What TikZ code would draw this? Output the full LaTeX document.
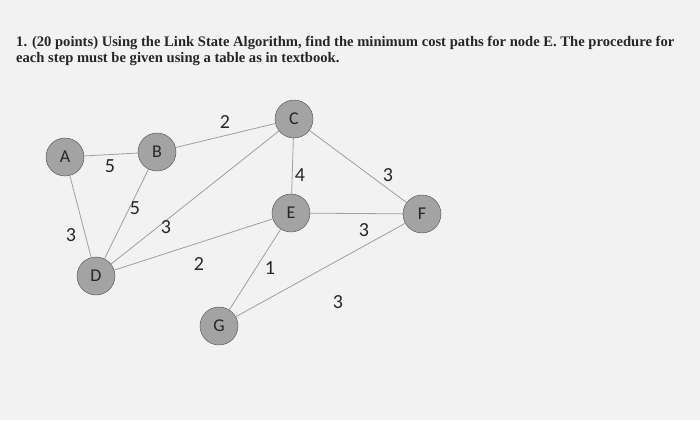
\documentclass[tikz,border=0pt]{standalone}
\usepackage{fontspec}
\setmainfont{Liberation Serif}
\newfontfamily\labelfont{Carlito}
\usetikzlibrary{positioning, calc}

\begin{document}
\begin{tikzpicture}[x=1pt, y=-1pt, router/.style={circle, draw=gray!60!black, fill=gray!72, minimum size=38pt, inner sep=0pt, font=\labelfont\fontsize{18}{18}\selectfont, text=black!85}, link/.style={gray!75, line width=0.8pt}, weight/.style={font=\labelfont\fontsize{20}{20}\selectfont, text=black!85}, task/.style={anchor=base west, inner sep=0pt, font=\bfseries\fontsize{14.6}{16}\selectfont, text=black!85}]
  \fill[gray!10] (0,0) rectangle (700,420);
  \useasboundingbox (0,0) rectangle (700,420);

  % question text
  \node (q1) at (16,46) [task] {1. (20 points) Using the Link State Algorithm, find the minimum cost paths for node E. The procedure for};
  \node (q2) at (16,62) [task] {each step must be given using a table as in textbook.};

  % routers
  \node (A) at (65,157) [router] {A};
  \node (B) at (157,152) [router] {B};
  \node (C) at (294,119) [router] {C};
  \node (D) at (96,276) [router] {D};
  \node (E) at (291,213) [router] {E};
  \node (F) at (422,214) [router] {F};
  \node (G) at (219,326) [router] {G};

  % links
  \draw[link] (A) -- (B);
  \draw[link] (A) -- (D);
  \draw[link] (B) -- (C);
  \draw[link] (B) -- (D);
  \draw[link] (C) -- (D);
  \draw[link] (C) -- (E);
  \draw[link] (C) -- (F);
  \draw[link] (D) -- (E);
  \draw[link] (E) -- (F);
  \draw[link] (E) -- (G);
  \draw[link] (G) -- (F);

  % costs
  \node (wab) at (110,166) [weight] {5};
  \node (wad) at (71,235) [weight] {3};
  \node (wbc) at (225,122) [weight] {2};
  \node (wbd) at (135,208) [weight] {5};
  \node (wcd) at (166,227) [weight] {3};
  \node (wce) at (300,175) [weight] {4};
  \node (wcf) at (388,175) [weight] {3};
  \node (wde) at (199,264) [weight] {2};
  \node (wef) at (364,230) [weight] {3};
  \node (weg) at (270,268) [weight] {1};
  \node (wgf) at (338,302) [weight] {3};
\end{tikzpicture}
\end{document}
